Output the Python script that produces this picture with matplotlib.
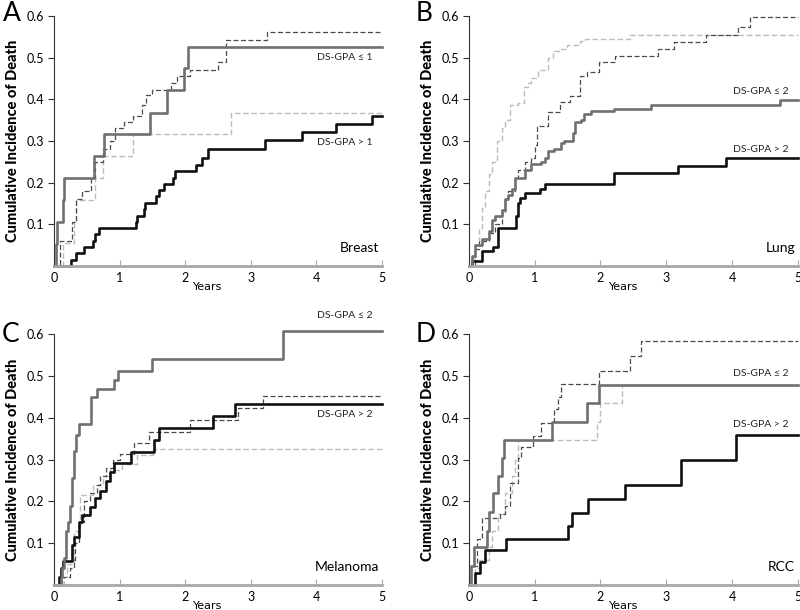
import matplotlib
matplotlib.use("Agg")
import matplotlib.pyplot as plt

plt.rcParams['font.family'] = ['Lato', 'DejaVu Sans']

# ---- panel A: Breast ----
a_low_x = [0, 0.025, 0.04, 0.13, 0.15, 0.61, 0.76, 1.47, 1.73, 1.98, 2.05, 5]
a_low_y = [0, 0.053, 0.106, 0.158, 0.211, 0.263, 0.316, 0.368, 0.421, 0.474, 0.526, 0.526]
a_high_x = [0, 0.26, 0.33, 0.45, 0.59, 0.62, 0.69, 1.25, 1.27, 1.37, 1.39, 1.56, 1.60, 1.68,
            1.81, 1.84, 2.17, 2.25, 2.35, 3.22, 3.78, 4.30, 4.85, 5]
a_high_y = [0, 0.015, 0.03, 0.045, 0.06, 0.076, 0.091, 0.106, 0.121, 0.136, 0.152, 0.167, 0.182,
            0.197, 0.212, 0.227, 0.242, 0.258, 0.281, 0.301, 0.321, 0.341, 0.36, 0.36]
a_dlow_x = [0, 0.09, 0.28, 0.33, 0.42, 0.57, 0.62, 0.75, 0.85, 0.93, 1.07, 1.20, 1.34, 1.41,
            1.49, 1.78, 1.87, 2.07, 2.50, 2.62, 3.25, 5]
a_dlow_y = [0, 0.061, 0.105, 0.16, 0.18, 0.21, 0.25, 0.28, 0.30, 0.33, 0.345, 0.36, 0.385, 0.41,
            0.423, 0.44, 0.455, 0.47, 0.49, 0.543, 0.562, 0.562]
a_dhigh_x = [0, 0.14, 0.30, 0.33, 0.62, 0.75, 1.20, 2.70, 5]
a_dhigh_y = [0, 0.055, 0.105, 0.158, 0.21, 0.263, 0.316, 0.368, 0.368]

# ---- panel B: Lung ----
b_low_x = [0, 0.05, 0.1, 0.2, 0.3, 0.35, 0.4, 0.5, 0.55, 0.6, 0.65, 0.7, 0.85, 0.95, 1.1, 1.15,
           1.2, 1.3, 1.4, 1.45, 1.58, 1.62, 1.7, 1.75, 1.85, 2.2, 2.77, 4.72, 5]
b_low_y = [0, 0.025, 0.05, 0.065, 0.085, 0.11, 0.12, 0.135, 0.16, 0.17, 0.185, 0.21, 0.23, 0.245,
           0.25, 0.26, 0.275, 0.28, 0.295, 0.30, 0.32, 0.345, 0.35, 0.365, 0.371, 0.376, 0.387,
           0.399, 0.399]
b_high_x = [0, 0.05, 0.2, 0.37, 0.45, 0.72, 0.75, 0.78, 0.85, 1.08, 1.15, 2.2, 3.17, 3.9, 5]
b_high_y = [0, 0.012, 0.035, 0.045, 0.091, 0.12, 0.151, 0.162, 0.175, 0.185, 0.197, 0.222, 0.24,
            0.258, 0.258]
b_dlow_x = [0, 0.1, 0.15, 0.3, 0.4, 0.5, 0.55, 0.6, 0.7, 0.75, 0.85, 0.95, 1.0, 1.03, 1.2, 1.38,
            1.54, 1.69, 1.79, 1.97, 2.22, 2.88, 3.11, 3.6, 4.09, 4.27, 5]
b_dlow_y = [0, 0.04, 0.06, 0.08, 0.10, 0.13, 0.16, 0.18, 0.21, 0.23, 0.25, 0.26, 0.29, 0.335,
            0.37, 0.393, 0.407, 0.455, 0.465, 0.49, 0.504, 0.52, 0.538, 0.553, 0.573, 0.598, 0.598]
b_dhigh_x = [0, 0.05, 0.1, 0.15, 0.2, 0.25, 0.3, 0.35, 0.43, 0.5, 0.55, 0.62, 0.75, 0.84, 0.9,
             0.95, 1.05, 1.2, 1.28, 1.38, 1.49, 1.69, 1.77, 2.45, 5]
b_dhigh_y = [0, 0.02, 0.05, 0.09, 0.14, 0.18, 0.22, 0.25, 0.30, 0.33, 0.35, 0.385, 0.39, 0.43,
             0.44, 0.45, 0.47, 0.50, 0.515, 0.52, 0.53, 0.54, 0.545, 0.553, 0.553]

# ---- panel C: Melanoma ----
c_low_x = [0, 0.1, 0.12, 0.16, 0.18, 0.22, 0.25, 0.28, 0.30, 0.33, 0.38, 0.56, 0.65, 0.92,
           0.98, 1.49, 3.49, 5]
c_low_y = [0, 0.02, 0.04, 0.065, 0.13, 0.15, 0.19, 0.255, 0.32, 0.36, 0.385, 0.449, 0.47, 0.49,
           0.513, 0.54, 0.608, 0.608]
c_high_x = [0, 0.07, 0.1, 0.13, 0.28, 0.3, 0.38, 0.42, 0.55, 0.62, 0.70, 0.79, 0.85, 0.92,
            1.17, 1.52, 1.6, 2.43, 2.76, 5]
c_high_y = [0, 0.02, 0.04, 0.057, 0.095, 0.115, 0.15, 0.168, 0.187, 0.207, 0.226, 0.249, 0.27,
            0.293, 0.319, 0.347, 0.376, 0.405, 0.433, 0.433]
c_dlow_x = [0, 0.12, 0.25, 0.3, 0.32, 0.38, 0.45, 0.55, 0.65, 0.7, 0.8, 0.9, 1.0, 1.22, 1.45,
            2.08, 2.81, 3.19, 5]
c_dlow_y = [0, 0.02, 0.04, 0.06, 0.10, 0.15, 0.20, 0.22, 0.24, 0.26, 0.28, 0.30, 0.313, 0.34,
            0.365, 0.395, 0.423, 0.452, 0.452]
c_dhigh_x = [0, 0.15, 0.2, 0.3, 0.4, 0.6, 0.75, 0.85, 1.03, 1.27, 1.51, 5]
c_dhigh_y = [0, 0.02, 0.05, 0.13, 0.215, 0.24, 0.26, 0.275, 0.29, 0.31, 0.325, 0.325]

# ---- panel D: RCC ----
d_low_x = [0, 0.03, 0.08, 0.27, 0.3, 0.37, 0.45, 0.5, 0.53, 1.27, 1.8, 1.98, 5]
d_low_y = [0, 0.045, 0.09, 0.13, 0.175, 0.22, 0.26, 0.305, 0.348, 0.39, 0.435, 0.478, 0.478]
d_high_x = [0, 0.1, 0.17, 0.25, 0.57, 1.5, 1.57, 1.81, 2.37, 3.23, 4.06, 5]
d_high_y = [0, 0.028, 0.055, 0.083, 0.11, 0.14, 0.172, 0.205, 0.24, 0.298, 0.358, 0.358]
d_dlow_x = [0, 0.04, 0.12, 0.2, 0.48, 0.55, 0.62, 0.75, 0.8, 0.98, 1.1, 1.3, 1.35, 1.4, 1.98,
            2.45, 2.62, 5]
d_dlow_y = [0, 0.045, 0.11, 0.16, 0.17, 0.19, 0.245, 0.305, 0.33, 0.357, 0.388, 0.42, 0.45,
            0.482, 0.513, 0.548, 0.583, 0.583]
d_dhigh_x = [0, 0.1, 0.15, 0.3, 0.35, 0.45, 0.55, 0.65, 0.7, 0.75, 1.95, 2.0, 2.33, 5]
d_dhigh_y = [0, 0.04, 0.06, 0.09, 0.13, 0.17, 0.22, 0.26, 0.30, 0.348, 0.39, 0.435, 0.478, 0.478]

panels = [
    # letter, site, cut, series, label y (low, high), axes rect, letter x, letter baseline y
    ('A', 'Breast', '1', (a_low_x, a_low_y, a_high_x, a_high_y, a_dlow_x, a_dlow_y, a_dhigh_x, a_dhigh_y),
     (0.50, 0.297), [0.0675, 0.564, 0.41, 0.41], 0.015, 0.9656),
    ('B', 'Lung', '2', (b_low_x, b_low_y, b_high_x, b_high_y, b_dlow_x, b_dlow_y, b_dhigh_x, b_dhigh_y),
     (0.418, 0.279), [0.586, 0.564, 0.4115, 0.41], 0.530, 0.9656),
    ('C', 'Melanoma', '2', (c_low_x, c_low_y, c_high_x, c_high_y, c_dlow_x, c_dlow_y, c_dhigh_x, c_dhigh_y),
     (0.646, 0.407), [0.0675, 0.041, 0.41, 0.411], 0.013, 0.4393),
    ('D', 'RCC', '2', (d_low_x, d_low_y, d_high_x, d_high_y, d_dlow_x, d_dlow_y, d_dhigh_x, d_dhigh_y),
     (0.507, 0.383), [0.586, 0.041, 0.4115, 0.411], 0.532, 0.4393),
]

fig = plt.figure(figsize=(8, 6.1), dpi=100)

for letter, site, cut, s, laby, rect, fx, fy in panels:
    ax = fig.add_axes(rect)
    lx, ly, hx, hy, dlx, dly, dhx, dhy = s
    ax.step(dhx, dhy, where='post', color='#bcbcbc', lw=1.0, ls=(0, (4, 2)), clip_on=False)
    ax.step(dlx, dly, where='post', color='#4a4a4a', lw=0.9, ls=(0, (4, 2)), clip_on=False)
    ax.step(hx, hy, where='post', color='#111111', lw=1.9, clip_on=False)
    ax.step(lx, ly, where='post', color='#707070', lw=1.9, clip_on=False)

    ax.set_xlim(0, 5)
    ax.set_ylim(0, 0.6)
    ax.spines['top'].set_visible(False)
    ax.spines['right'].set_visible(False)
    ax.spines['left'].set_color('#333333')
    ax.spines['left'].set_linewidth(0.8)
    ax.spines['bottom'].set_color('#a8a8a8')
    ax.spines['bottom'].set_linewidth(2.0)
    ax.set_yticks([0.1, 0.2, 0.3, 0.4, 0.5, 0.6])
    ax.set_yticklabels(['0.1', '0.2', '0.3', '0.4', '0.5', '0.6'])
    ax.set_xticks([0, 1, 2, 3, 4, 5])
    ax.tick_params(axis='y', direction='out', length=4, width=0.8, color='#333333',
                   labelsize=9, pad=3)
    ax.tick_params(axis='x', direction='in', length=4, width=0.8, color='#a8a8a8',
                   labelsize=9, pad=4)
    ax.set_ylabel('Cumulative Incidence of Death', fontsize=10.5, fontweight='black', labelpad=5)
    ax.text(2.35, -0.05, 'Years', fontsize=8, ha='center', va='center',
            family=['Liberation Sans Narrow', 'DejaVu Sans'])

    ax.text(4.43, laby[0], 'DS-GPA \u2264 ' + cut, fontsize=7.5, color='#222222', ha='center', va='center')
    ax.text(4.43, laby[1], 'DS-GPA > ' + cut, fontsize=7.5, color='#222222', ha='center', va='center')
    ax.text(4.96, 0.043, site, fontsize=10, ha='right', va='center')

    fig.text(fx, fy, letter, fontsize=19, ha='center', va='baseline')

fig.savefig('out.png', dpi=100)
